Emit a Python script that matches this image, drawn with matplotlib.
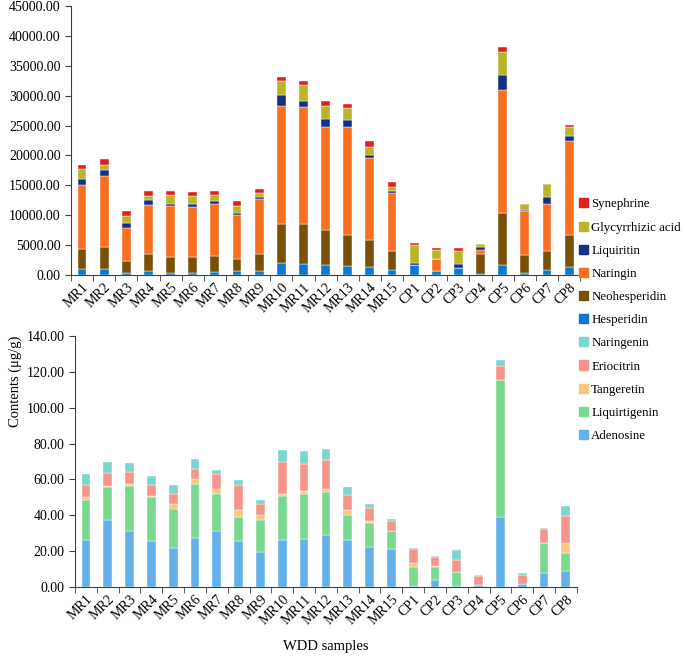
import numpy as np
import matplotlib
matplotlib.use("Agg")
import matplotlib.pyplot as plt
from matplotlib.patches import Patch

plt.rcParams['font.family'] = ['Liberation Serif', 'DejaVu Serif']

samples = ['MR%d' % i for i in range(1, 16)] + ['CP%d' % i for i in range(1, 9)]

# top panel (ug/g)
hesperidin = [1000, 1000, 390, 670, 390, 390, 560, 670, 670, 2060, 1900, 1730, 1500, 1280, 890,
              1620, 670, 1170, 220, 1620, 340, 890, 1340]
neohesperidin = [3400, 3680, 1950, 2900, 2620, 2620, 2620, 2060, 2900, 6470, 6630, 5800, 5190, 4520, 3180,
                 0, 0, 0, 3230, 8810, 2960, 3180, 5350]
naringin = [10650, 11930, 5460, 8090, 8480, 8420, 8640, 7360, 9200, 19800, 19630, 17230, 18070, 13720, 9700,
            0, 2060, 0, 780, 20460, 7420, 7750, 15780]
liquiritin = [950, 950, 890, 840, 450, 500, 500, 330, 340, 1730, 950, 1280, 1120, 500, 330,
              340, 0, 610, 390, 2570, 220, 1280, 840]
glycyrrhizic = [1680, 890, 1230, 730, 1450, 1280, 1000, 1120, 610, 2450, 2680, 2170, 2010, 1390, 610,
                3120, 1510, 2290, 500, 3900, 890, 2170, 1510]
synephrine = [780, 890, 780, 780, 610, 610, 780, 780, 730, 610, 730, 890, 780, 950, 780,
              220, 220, 390, 100, 780, 60, 0, 220]

# bottom panel (ug/g)
adenosine = [26.5, 37.6, 31.5, 25.4, 21.7, 27.4, 31.5, 25.4, 19.3, 26.0, 26.9, 28.9, 26.5, 22.3, 21.3,
             0.3, 3.7, 0.3, 1.1, 38.8, 1.5, 7.8, 8.7]
liquirtigenin = [22.3, 18.0, 25.1, 24.7, 21.7, 30.3, 20.6, 13.7, 18.3, 25.0, 25.2, 24.3, 13.7, 13.3, 10.0,
                 11.0, 7.2, 7.9, 0.0, 76.9, 0.0, 16.5, 10.4]
tangeretin = [1.5, 0.9, 1.1, 0.5, 2.8, 2.8, 2.6, 4.1, 2.8, 1.1, 1.5, 1.5, 2.6, 1.3, 0.2,
              2.2, 1.1, 0.0, 0.0, 0.0, 0.0, 0.4, 5.2]
eriocitrin = [6.7, 7.2, 6.7, 6.1, 5.9, 5.3, 8.2, 13.5, 6.1, 17.4, 15.0, 15.9, 8.4, 7.4, 5.4,
              7.6, 5.0, 6.8, 5.2, 7.8, 5.4, 7.4, 15.4]
naringenin = [5.9, 6.1, 5.0, 5.2, 4.6, 5.4, 2.4, 3.2, 2.1, 6.7, 7.1, 6.2, 4.4, 2.2, 1.1,
              0.8, 0.5, 5.8, 0.6, 3.0, 0.9, 0.9, 5.5]

top_series = [('Hesperidin', hesperidin, '#0a78cc'),
              ('Neohesperidin', neohesperidin, '#7a5007'),
              ('Naringin', naringin, '#f96f22'),
              ('Liquiritin', liquiritin, '#132f8a'),
              ('Glycyrrhizic acid', glycyrrhizic, '#bab526'),
              ('Synephrine', synephrine, '#e21f1f')]
bottom_series = [('Adenosine', adenosine, '#63b1ea'),
                 ('Liquirtigenin', liquirtigenin, '#78d98f'),
                 ('Tangeretin', tangeretin, '#f9c87c'),
                 ('Eriocitrin', eriocitrin, '#f7958a'),
                 ('Naringenin', naringenin, '#7ad6cf')]

fig = plt.figure(figsize=(6.85, 6.57), dpi=100)
ax1 = fig.add_axes([0.1036, 0.5814, 0.7434, 0.4095])
ax2 = fig.add_axes([0.1095, 0.1065, 0.7325, 0.3821])

x = np.arange(len(samples))
fs = 10


def stack(ax, series, ymax, step):
    bottom = np.zeros(len(samples))
    for name, vals, col in series:
        vals = np.array(vals, dtype=float)
        ax.bar(x, vals, 0.4, bottom=bottom, color=col, edgecolor='white', linewidth=0.3)
        bottom += vals
    ax.set_xlim(-0.5, len(samples) - 0.5)
    ax.set_ylim(0, ymax)
    ax.set_yticks(np.arange(0, ymax + 1, step))
    ax.set_yticklabels(['%.2f' % v for v in np.arange(0, ymax + 1, step)], fontsize=fs)
    ax.set_xticks(x)
    ax.set_xticklabels(samples, rotation=45, ha='right', rotation_mode='anchor', fontsize=fs)
    ax.tick_params(axis='x', length=0, pad=4)
    ax.set_xticks(np.arange(-0.5, len(samples)), minor=True)
    ax.tick_params(axis='x', which='minor', length=4, color='#404040')
    ax.tick_params(axis='y', length=4, color='#404040')
    for s in ['top', 'right']:
        ax.spines[s].set_visible(False)
    for s in ['left', 'bottom']:
        ax.spines[s].set_color('#404040')


stack(ax1, top_series, 45000, 5000)
stack(ax2, bottom_series, 140, 20)

handles = [Patch(color=c, label=n) for n, v, c in reversed(top_series)]
handles += [Patch(color=c, label=n) for n, v, c in reversed(bottom_series)]
fig.legend(handles=handles, loc='upper left', bbox_to_anchor=(0.845, 0.698), frameon=False,
           borderpad=0, borderaxespad=0, fontsize=9.3, handlelength=0.7, handleheight=0.7,
           handletextpad=0.25, labelspacing=0.86)

fig.text(0.022, 0.42, 'Contents (μg/g)', rotation=90, ha='center', va='center', fontsize=fs + 0.5)
fig.text(0.476, 0.006, 'WDD samples', ha='center', va='bottom', fontsize=fs + 0.5)

fig.savefig('out.png', dpi=100)
